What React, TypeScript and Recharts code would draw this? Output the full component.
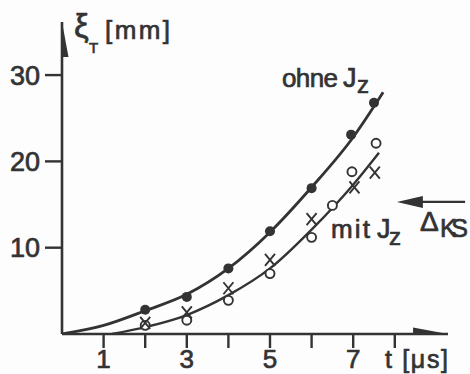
import {
  ComposedChart,
  Line,
  Scatter,
  XAxis,
  YAxis,
  ReferenceLine,
} from "recharts";

// measured displacement xi_T [mm] over time t [us]
const ohneT = [2, 3, 4, 5, 6, 6.95, 7.5];
const ohneV = [2.8, 4.3, 7.6, 11.9, 16.9, 23.1, 26.8];

const mitCircleT = [2, 3, 4, 5, 6, 6.5, 6.97, 7.55];
const mitCircleV = [1.0, 1.6, 3.9, 7.0, 11.2, 14.9, 18.8, 22.1];

const mitCrossT = [2, 3, 4, 5, 6, 7.03, 7.52];
const mitCrossV = [1.3, 2.5, 5.3, 8.6, 13.3, 17.0, 18.7];

// hand-drawn fit curves
const ohneFitT = [0, 1, 2, 3, 4, 5, 6, 7, 7.72];
const ohneFitV = [0, 1.0, 2.7, 4.6, 7.6, 11.8, 17.0, 22.8, 28.0];

const mitFitT = [1.2, 2, 3, 4, 5, 6, 7, 7.62];
const mitFitV = [0, 0.8, 2.2, 4.5, 7.6, 12.1, 17.3, 21.0];

const xTicks = [1, 2, 3, 4, 5, 6, 7, 8];
const yTicks = [10, 20, 30];

const deltaKS = 15.3;
const deltaFrom = 8.05;
const deltaTo = 9.69;

const xMax = 9.76;
const yMax = 36.15;
const xArrowTip = 9.28;

const INK = "#333";
const FONT = "'Liberation Sans', Arial, sans-serif";
const HEAVY = { stroke: INK, strokeWidth: 0.7 };

const zip = (t: number[], v: number[]) => t.map((x, i) => ({ t: x, v: v[i] }));

const ohnePts = zip(ohneT, ohneV);
const mitCircles = zip(mitCircleT, mitCircleV);
const mitCrosses = zip(mitCrossT, mitCrossV);
const ohneFit = zip(ohneFitT, ohneFitV);
const mitFit = zip(mitFitT, mitFitV);

const arrows = [
  { t: xArrowTip, v: 0, dir: "right", len: 35, half: 6.5 },
  { t: 0, v: yMax, dir: "up", len: 35, half: 6.5 },
  { t: deltaFrom, v: deltaKS, dir: "left", len: 26, half: 6 },
];

const FilledDot = (p: any) => <circle cx={p.cx} cy={p.cy} r={5} fill={INK} />;

const OpenDot = (p: any) => (
  <circle cx={p.cx} cy={p.cy} r={4.5} fill="#fff" stroke={INK} strokeWidth={1.9} />
);

const Cross = (p: any) => (
  <path
    d={`M${p.cx - 5},${p.cy - 6}L${p.cx + 5},${p.cy + 6}M${p.cx + 5},${p.cy - 6}L${p.cx - 5},${p.cy + 6}`}
    stroke={INK}
    strokeWidth={1.9}
    fill="none"
  />
);

const ArrowHead = (p: any) => {
  const { cx, cy, payload } = p;
  const { dir, len, half } = payload;
  let d = "";
  if (dir === "right") d = `M${cx},${cy}L${cx - len},${cy - half}L${cx - len},${cy + half}Z`;
  if (dir === "left") d = `M${cx},${cy}L${cx + len},${cy - half}L${cx + len},${cy + half}Z`;
  if (dir === "up") d = `M${cx},${cy}L${cx - half},${cy + len}L${cx + half},${cy + len}Z`;
  return <path d={d} fill={INK} />;
};

export default function App() {
  return (
    <div
      style={{
        position: "absolute",
        left: 0,
        top: 0,
        width: 470,
        height: 374,
        background: "#fdfdfd",
        fontFamily: FONT,
      }}
    >
      <ComposedChart
        width={470}
        height={374}
        margin={{ top: 22, right: 2, bottom: 0, left: 0 }}
      >
        <XAxis
          dataKey="t"
          type="number"
          domain={[0, xMax]}
          allowDataOverflow
          ticks={xTicks}
          tickFormatter={(v: number) => (v % 2 === 1 ? String(v) : "")}
          axisLine={false}
          tickLine={{ stroke: INK, strokeWidth: 2.4 }}
          tickSize={14}
          tickMargin={2}
          height={40}
          tick={{ fill: INK, fontSize: 26, fontFamily: FONT, ...HEAVY }}
        />
        <YAxis
          type="number"
          domain={[0, yMax]}
          allowDataOverflow
          ticks={yTicks}
          axisLine={{ stroke: INK, strokeWidth: 2.6 }}
          tickLine={{ stroke: INK, strokeWidth: 2.4 }}
          tickSize={17}
          tickMargin={5}
          width={62}
          tick={{ fill: INK, fontSize: 27, fontFamily: FONT, ...HEAVY }}
        />
        <ReferenceLine
          segment={[
            { x: 0, y: 0 },
            { x: xArrowTip, y: 0 },
          ]}
          stroke={INK}
          strokeWidth={2.6}
        />
        <ReferenceLine
          segment={[
            { x: deltaFrom + 0.3, y: deltaKS },
            { x: deltaTo, y: deltaKS },
          ]}
          stroke={INK}
          strokeWidth={2.2}
        />
        <Line
          data={ohneFit}
          dataKey="v"
          type="monotone"
          stroke={INK}
          strokeWidth={2.8}
          dot={false}
          isAnimationActive={false}
        />
        <Line
          data={mitFit}
          dataKey="v"
          type="monotone"
          stroke={INK}
          strokeWidth={2.4}
          dot={false}
          isAnimationActive={false}
        />
        <Scatter data={ohnePts} dataKey="v" shape={FilledDot} isAnimationActive={false} />
        <Scatter data={mitCircles} dataKey="v" shape={OpenDot} isAnimationActive={false} />
        <Scatter data={mitCrosses} dataKey="v" shape={Cross} isAnimationActive={false} />
        <Scatter data={arrows} dataKey="v" shape={ArrowHead} isAnimationActive={false} />
      </ComposedChart>
      <svg
        width={470}
        height={374}
        style={{ position: "absolute", left: 0, top: 0, pointerEvents: "none" }}
        fontFamily={FONT}
        fill={INK}
        stroke={INK}
        strokeWidth={0.7}
      >
        <text x={74} y={37} fontSize={33}>ξ</text>
        <text x={89} y={53} fontSize={15}>T</text>
        <text x={105} y={39} fontSize={26} textLength={65} lengthAdjust="spacing">[mm]</text>
        <text x={385} y={368} fontSize={25} textLength={63} lengthAdjust="spacing">t [μs]</text>
        <text x={282} y={87} fontSize={26} textLength={56} lengthAdjust="spacing">ohne</text>
        <text x={343} y={87} fontSize={27}>J</text>
        <text x={357} y={93} fontSize={24}>z</text>
        <text x={331} y={238} fontSize={26} textLength={39} lengthAdjust="spacing">mit</text>
        <text x={377} y={238} fontSize={27}>J</text>
        <text x={389} y={245} fontSize={24}>z</text>
        <text x={420} y={231} fontSize={28}>Δ</text>
        <text x={440} y={237} fontSize={25} textLength={28} lengthAdjust="spacing">KS</text>
      </svg>
    </div>
  );
}
